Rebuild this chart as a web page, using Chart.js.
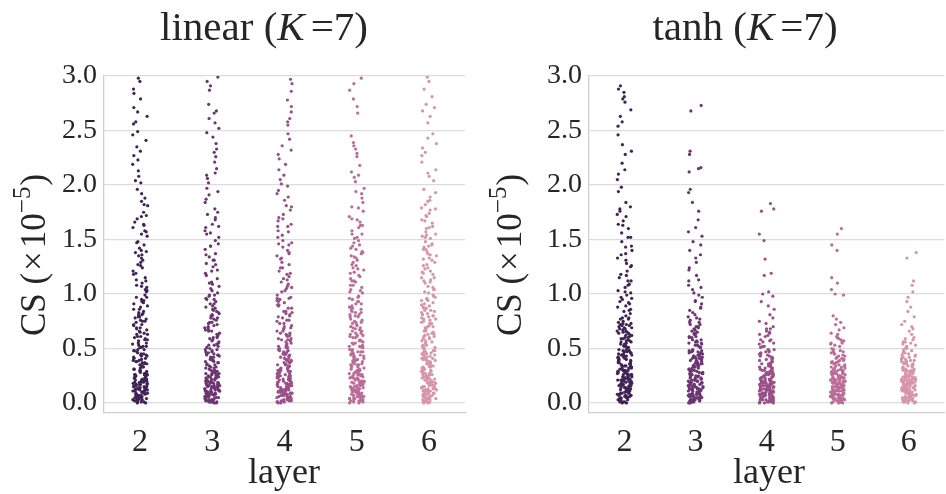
<!DOCTYPE html>
<html>
<head>
<meta charset="utf-8">
<script src="https://cdn.jsdelivr.net/npm/chart.js@4.4.1/dist/chart.umd.min.js"></script>
<style>
  html, body { margin: 0; padding: 0; background: #fff; }
  .wrap { display: flex; width: 946px; height: 494px; }
  .box { width: 473px; height: 494px; }
</style>
</head>
<body>
<div class="wrap">
  <div class="box"><canvas id="linearChart" width="473" height="494"></canvas></div>
  <div class="box"><canvas id="tanhChart" width="473" height="494"></canvas></div>
</div>
<script>
const layers = [2, 3, 4, 5, 6];
const yTicks = [0.0, 0.5, 1.0, 1.5, 2.0, 2.5, 3.0];
const palette = ['#3f2356', '#6b3572', '#9a4f88', '#bb6c97', '#d795a8'];

// CS values (x1e-5), one array per layer
const linear2 = [0.02,0.11,0.05,0.19,0.08,0.23,0.01,0.14,0.07,0.17,0.03,0.21,0.10,0.06,0.24,0.13,0.04,0.16,0.09,0.20,0.00,0.12,0.18,0.03,0.22,0.08,0.15,0.05,0.25,0.11,0.02,0.19,0.07,0.14,0.01,0.23,0.10,0.17,0.06,0.13,
  0.27,0.41,0.33,0.48,0.29,0.37,0.45,0.31,0.39,0.26,0.44,0.35,0.49,0.30,0.42,0.28,0.38,0.46,0.34,0.40,0.32,0.47,0.36,0.43,0.26,
  0.52,0.71,0.63,0.88,0.57,0.95,0.66,0.79,0.54,0.84,0.61,0.74,0.99,0.58,0.69,0.91,0.76,0.55,0.82,0.64,0.93,0.72,0.60,0.86,0.51,0.78,0.68,0.97,0.81,0.75,
  1.04,1.27,1.15,1.42,1.08,1.33,1.21,1.48,1.12,1.38,1.02,1.24,1.45,1.18,1.31,1.06,1.40,1.29,1.10,1.36,
  1.53,1.72,1.61,1.88,1.57,1.96,1.66,1.81,1.55,1.75,1.92,1.63,1.85,1.69,
  2.04,2.27,2.13,2.41,2.08,2.35,2.19,2.46,2.02,2.31,2.23,2.49,
  2.56,2.71,2.63,2.88,2.58,2.79,2.95,2.67,2.84,2.98,
  0.04,0.17,0.09,0.26,0.12,0.01,0.21,0.07,0.15,0.28,0.03,0.19,0.11,0.24,0.06,0.14,0.29,0.02,0.18,0.09,0.23,0.13,0.05,0.27,0.16,0.08,0.20,0.00,0.12,0.25,0.04,0.17,0.10,0.22,0.07,0.14,0.30,0.03,0.19,0.11,0.26,0.06,0.15,0.21,0.09,
  0.33,0.58,0.45,0.81,0.37,0.69,0.52,0.92,0.41,0.63,0.77,0.34,0.55,0.86,0.48,0.72,0.39,0.97,0.61,0.44,0.83,0.53,0.67,0.31,0.75,0.49,0.89,0.36,0.59,0.43,0.79,0.65,0.51,0.94,0.38,
  1.07,1.35,1.19,1.58,1.26,1.82,1.13,1.47,1.71,1.03,1.39,1.64];
const linear3 = [0.03,0.16,0.09,0.22,0.01,0.12,0.19,0.06,0.24,0.14,0.04,0.20,0.08,0.17,0.00,0.11,0.23,0.05,0.15,0.10,0.21,0.02,0.13,0.18,0.07,0.25,0.09,0.16,0.04,0.12,0.20,0.06,0.22,0.01,0.14,0.18,0.08,0.11,0.24,0.03,
  0.28,0.44,0.36,0.31,0.49,0.26,0.40,0.33,0.46,0.38,0.29,0.43,0.35,0.48,0.27,0.41,0.32,0.45,0.37,0.30,0.47,0.34,0.42,0.39,0.26,0.44,
  0.53,0.77,0.64,0.91,0.59,0.83,0.70,0.98,0.56,0.74,0.87,0.62,0.95,0.67,0.80,0.51,0.72,0.89,0.60,0.85,0.66,0.93,0.55,0.78,0.69,0.96,0.58,0.81,0.73,0.99,
  1.03,1.22,1.37,1.11,1.46,1.28,1.07,1.34,1.19,1.49,1.14,1.41,1.25,1.01,1.31,1.17,1.44,1.09,
  1.52,1.78,1.64,1.91,1.58,1.84,1.70,1.97,1.61,1.75,1.87,1.55,1.68,1.94,
  2.06,2.33,2.15,2.44,2.02,2.26,2.38,2.11,2.48,2.21,2.30,2.09,
  2.52,2.68,2.61,2.74,2.57,2.66,2.87,2.91,2.95,2.99,
  0.05,0.18,0.02,0.23,0.11,0.29,0.08,0.15,0.01,0.20,0.13,0.27,0.06,0.16,0.10,0.24,0.03,0.19,0.12,0.28,0.07,0.14,0.22,0.00,0.17,0.09,0.25,0.04,0.13,0.21,0.08,0.30,0.15,0.02,0.19,0.11,0.26,0.06,0.16,0.23,0.10,0.01,0.18,0.12,0.27,
  0.35,0.61,0.47,0.84,0.32,0.71,0.54,0.95,0.42,0.66,0.78,0.37,0.57,0.88,0.49,0.74,0.40,0.99,0.63,0.45,0.82,0.52,0.69,0.33,0.76,0.50,0.91,0.38,0.60,0.44,0.80,0.67,0.53,0.86,0.39,
  1.05,1.31,1.21,1.56,1.27,1.73,1.10,1.44,1.62,1.36];
const linear4 = [0.01,0.13,0.07,0.21,0.04,0.17,0.10,0.24,0.02,0.15,0.08,0.19,0.05,0.22,0.12,0.00,0.16,0.09,0.23,0.03,0.14,0.06,0.20,0.11,0.18,0.02,0.25,0.07,0.13,0.04,0.21,0.10,0.16,0.01,0.19,0.08,0.12,0.24,0.05,0.17,0.09,0.22,
  0.27,0.43,0.34,0.48,0.30,0.39,0.45,0.26,0.36,0.42,0.31,0.47,0.28,0.38,0.44,0.33,0.49,0.29,0.41,0.35,0.46,0.32,0.40,0.27,0.37,0.44,0.30,0.48,
  0.54,0.73,0.62,0.89,0.57,0.81,0.68,0.96,0.52,0.76,0.64,0.92,0.59,0.84,0.71,0.99,0.55,0.79,0.66,0.87,0.61,0.94,0.51,0.75,0.69,0.83,0.58,0.90,0.63,0.97,
  1.05,1.29,1.16,1.43,1.02,1.35,1.21,1.47,1.09,1.32,1.13,1.40,1.24,1.07,1.38,1.19,1.45,1.27,1.11,1.49,
  1.54,1.73,1.62,1.89,1.58,1.95,1.67,1.81,1.52,1.77,1.92,1.64,1.86,1.70,1.99,
  2.05,2.28,2.14,2.42,2.09,2.36,2.19,2.47,2.01,2.32,2.24,
  2.55,2.72,2.61,2.86,2.67,2.93,2.78,2.58,2.97,
  0.03,0.16,0.08,0.25,0.11,0.02,0.20,0.06,0.14,0.29,0.04,0.18,0.10,0.23,0.07,0.13,0.27,0.01,0.17,0.09,0.22,0.12,0.05,0.26,0.15,0.08,0.21,0.00,0.11,0.24,0.03,0.16,0.10,0.28,0.06,0.14,0.19,0.02,0.18,0.12,0.25,0.05,0.15,0.22,0.09,
  0.34,0.59,0.46,0.82,0.38,0.70,0.53,0.93,0.41,0.64,0.78,0.35,0.56,0.87,0.48,0.73,0.39,0.96,0.62,0.45,0.84,0.52,0.68,0.32,0.76,0.50,0.90,0.37,0.58,0.43,0.80,0.66,0.51,0.95,0.31,
  1.06,1.33,1.18,1.57,1.24,1.80,1.14,1.46,1.69,1.03,1.37,1.62];
const linear5 = [0.02,0.14,0.08,0.20,0.05,0.17,0.11,0.23,0.00,0.13,0.06,0.19,0.09,0.22,0.03,0.15,0.10,0.24,0.07,0.18,0.01,0.12,0.21,0.04,0.16,0.25,0.09,0.13,0.06,0.20,0.02,0.11,0.17,0.08,0.23,0.14,
  0.29,0.42,0.35,0.47,0.26,0.38,0.44,0.31,0.49,0.33,0.40,0.27,0.46,0.36,0.30,0.43,0.34,0.48,0.28,0.39,0.45,0.32,0.41,0.37,0.26,0.47,0.35,0.43,
  0.51,0.74,0.63,0.88,0.56,0.81,0.69,0.95,0.53,0.77,0.60,0.91,0.66,0.84,0.58,0.98,0.72,0.55,0.86,0.64,0.79,0.52,0.93,0.70,0.61,0.83,0.57,0.97,0.75,0.67,0.89,0.62,0.80,
  1.03,1.26,1.14,1.41,1.08,1.33,1.19,1.47,1.01,1.22,1.37,1.11,1.44,1.29,1.06,1.35,1.17,1.49,1.24,1.12,1.39,1.04,1.31,
  1.55,1.76,1.63,1.92,1.58,1.84,1.69,1.97,1.52,1.71,1.88,1.61,1.80,1.66,1.94,
  2.03,2.26,2.12,2.39,2.07,2.33,2.18,2.45,2.09,2.29,2.36,
  2.66,2.79,2.87,2.93,2.72,2.98,
  0.04,0.17,0.09,0.26,0.12,0.01,0.21,0.07,0.15,0.28,0.03,0.19,0.11,0.24,0.06,0.14,0.29,0.02,0.18,0.09,0.23,0.13,0.05,0.27,0.16,0.08,0.20,0.00,0.12,0.25,0.04,0.17,0.10,0.22,0.07,0.14,0.30,0.03,0.19,0.11,0.26,0.06,
  0.36,0.60,0.44,0.83,0.33,0.68,0.51,0.91,0.40,0.62,0.76,0.35,0.54,0.87,0.47,0.71,0.38,0.96,0.64,0.42,0.81,0.55,0.69,0.31,0.74,0.49,0.88,0.37,0.57,0.45,0.79,0.66,0.52,0.93,0.39,0.61,0.73,0.85,
  1.08,1.34,1.20,1.55,1.27,1.79,1.12,1.45,1.68,1.02,1.38,1.63,1.16,1.42,1.23,1.51];
const linear6 = [0.03,0.15,0.09,0.21,0.01,0.12,0.18,0.06,0.24,0.11,0.04,0.19,0.08,0.16,0.00,0.13,0.22,0.05,0.17,0.10,0.25,0.02,0.14,0.20,0.07,0.12,0.23,0.04,0.16,0.09,0.19,0.01,0.11,
  0.28,0.41,0.34,0.47,0.26,0.38,0.45,0.31,0.43,0.36,0.49,0.29,0.40,0.33,0.46,0.27,0.39,0.44,0.32,0.48,0.35,0.42,0.30,0.37,0.26,0.45,0.33,0.41,
  0.53,0.76,0.64,0.90,0.57,0.83,0.70,0.97,0.52,0.79,0.61,0.87,0.67,0.94,0.55,0.81,0.73,0.99,0.59,0.85,0.66,0.92,0.51,0.77,0.63,0.88,0.69,0.96,0.56,0.80,0.74,0.60,0.84,
  1.02,1.24,1.13,1.39,1.07,1.31,1.18,1.46,1.04,1.27,1.35,1.10,1.43,1.21,1.48,1.15,1.33,1.06,1.29,1.41,1.12,1.37,1.20,1.45,
  1.53,1.74,1.62,1.89,1.57,1.82,1.68,1.96,1.51,1.71,1.86,1.60,1.79,1.65,1.93,1.55,1.77,
  2.04,2.27,2.14,2.38,2.08,2.34,2.21,2.43,2.11,2.30,2.47,
  2.57,2.68,2.74,2.81,2.63,2.88,2.71,2.95,2.99,
  0.05,0.18,0.02,0.23,0.11,0.29,0.08,0.15,0.01,0.20,0.13,0.27,0.06,0.16,0.10,0.24,0.03,0.19,0.12,0.28,0.07,0.14,0.22,0.00,0.17,0.09,0.25,0.04,0.13,0.21,0.08,0.30,0.15,0.02,0.19,0.11,0.26,0.06,0.16,0.23,
  0.34,0.62,0.46,0.85,0.32,0.70,0.53,0.94,0.41,0.65,0.78,0.36,0.57,0.89,0.48,0.73,0.40,0.98,0.63,0.44,0.82,0.51,0.68,0.33,0.77,0.50,0.91,0.38,0.59,0.43,0.80,0.66,0.54,0.87,0.39,0.61,0.71,0.95,0.47,0.75,
  1.04,1.32,1.19,1.54,1.26,1.78,1.11,1.44,1.67,1.01,1.36,1.61,1.15,1.41,1.23,1.52,1.85,1.72];

// CS values (x1e-5)
const tanh2 = [0.02,0.13,0.07,0.20,0.04,0.16,0.10,0.23,0.01,0.14,0.08,0.19,0.05,0.22,0.11,0.00,0.17,0.09,0.24,0.03,0.15,0.06,0.21,0.12,0.18,0.02,0.25,0.08,0.13,0.04,0.20,0.10,0.16,0.01,0.23,0.07,0.12,0.19,0.05,0.14,0.09,0.22,
  0.27,0.42,0.34,0.48,0.30,0.38,0.45,0.26,0.36,0.43,0.31,0.47,0.28,0.39,0.44,0.33,0.49,0.29,0.41,0.35,0.46,0.32,0.40,0.27,0.37,0.44,0.30,0.48,0.34,0.42,
  0.52,0.66,0.58,0.71,0.54,0.63,0.69,0.56,0.74,0.60,0.67,0.51,0.64,0.72,0.57,0.70,0.53,0.62,0.68,0.59,0.73,0.55,0.65,0.61,
  0.78,0.91,0.84,0.97,0.80,0.88,0.95,0.82,0.93,0.86,0.99,0.77,
  1.03,1.21,1.12,1.37,1.06,1.28,1.17,1.44,1.01,1.33,1.09,1.25,1.48,1.15,1.40,1.31,
  1.52,1.71,1.60,1.84,1.56,1.76,1.94,1.63,1.80,1.67,1.98,1.73,
  2.05,2.28,2.14,2.37,2.20,2.46,2.10,2.31,
  2.54,2.63,2.76,2.81,2.58,2.88,2.79,2.69,2.85,2.91,
  0.03,0.18,0.09,0.31,0.14,0.42,0.06,0.24,0.37,0.11,0.01,0.28,0.46,0.16,0.08,0.33,0.21,0.49,0.04,0.26,0.13,0.39,0.19,0.07,0.44,0.29,0.12,0.35,0.02,0.23,0.47,0.17,0.32,0.10,0.40,0.05,0.27,0.15,0.43,0.20,0.36,0.09,0.25,0.48,0.14,0.30,0.00,0.22,0.38,0.11,0.45,0.18,0.34,0.06,0.26,0.41,0.16,0.03,0.29,0.21,
  0.53,0.68,0.59,0.75,0.56,0.64,0.71,0.51,0.62,0.78,0.57,0.66,0.73,0.54,0.69,0.60,0.77,0.52,0.65,0.72,
  0.85,1.02,0.92,1.18,1.36,0.89,1.26,1.52,1.08,1.64,0.96,1.43,1.78,1.12];
const tanh3 = [0.01,0.14,0.08,0.21,0.04,0.17,0.11,0.24,0.02,0.15,0.07,0.19,0.05,0.22,0.12,0.00,0.16,0.09,0.23,0.03,0.13,0.06,0.20,0.10,0.18,0.02,0.25,0.08,0.14,0.04,0.21,0.11,0.17,0.01,0.23,0.06,0.12,0.19,0.05,0.15,0.09,0.22,0.03,0.13,0.07,
  0.28,0.43,0.35,0.47,0.31,0.39,0.45,0.26,0.37,0.42,0.30,0.48,0.27,0.40,0.44,0.33,0.49,0.29,0.41,0.36,0.46,0.32,0.38,0.27,0.43,0.34,0.48,0.30,0.41,0.36,
  0.53,0.69,0.58,0.76,0.55,0.64,0.72,0.51,0.61,0.78,0.57,0.67,0.74,0.54,0.63,0.79,0.60,0.70,0.56,0.66,
  0.83,0.94,0.87,0.99,0.81,0.91,0.85,0.97,
  1.04,1.22,1.13,1.36,1.08,1.29,1.45,1.17,1.40,1.01,1.33,
  1.53,1.68,1.61,1.84,1.57,1.93,1.76,1.96,
  2.12,2.16,2.28,2.31,2.15,2.73,2.68,
  0.02,0.17,0.08,0.30,0.13,0.41,0.05,0.23,0.36,0.10,0.00,0.27,0.45,0.15,0.07,0.32,0.20,0.48,0.03,0.25,0.12,0.38,0.18,0.06,0.43,0.28,0.11,0.34,0.01,0.22,0.46,0.16,0.31,0.09,0.39,0.04,0.26,0.14,0.42,0.19,0.35,0.08,0.24,0.47,0.13,0.29,0.02,0.21,0.37,0.10,0.44,0.17,0.33,0.05,0.25,0.40,0.15,0.03,0.28,0.20,
  0.52,0.67,0.58,0.74,0.55,0.63,0.70,0.51,0.61,0.77,0.56,0.65,0.72,0.53,0.68,0.60,
  0.88,1.06,0.93,1.24,1.12,1.48];
const tanh4 = [0.01,0.12,0.06,0.19,0.03,0.15,0.09,0.22,0.00,0.13,0.07,0.17,0.04,0.21,0.10,0.24,0.02,0.14,0.08,0.18,0.05,0.20,0.11,0.23,0.01,0.16,0.06,0.12,0.25,0.03,0.19,0.09,0.15,0.00,0.22,0.07,0.13,0.17,0.04,0.10,0.24,0.02,0.14,0.20,0.08,0.11,0.18,0.05,0.23,0.01,0.16,0.09,0.21,0.03,0.12,
  0.27,0.41,0.33,0.46,0.29,0.37,0.44,0.26,0.35,0.49,0.31,0.40,0.28,0.43,0.36,0.47,0.30,0.38,0.45,0.32,0.42,0.27,0.39,0.34,0.48,
  0.52,0.66,0.58,0.73,0.55,0.63,0.70,0.51,0.61,0.68,0.57,0.75,0.64,0.54,
  0.78,0.86,0.81,0.93,0.89,0.98,
  1.02,1.17,1.19,1.32,1.49,1.55,1.76,1.78,1.83,1.00,
  0.02,0.14,0.07,0.21,0.10,0.27,0.04,0.17,0.24,0.09,0.00,0.19,0.29,0.12,0.06,0.22,0.15,0.26,0.03,0.18,0.11,0.25,0.13,0.05,0.28,0.20,0.08,0.23,0.01,0.16,0.30,0.12,0.21,0.07,0.26,0.04,0.18,0.10,0.24,0.14,0.02,0.19,0.09,0.27,0.06,0.16,0.11,0.22,0.03,0.13,
  0.32,0.47,0.38,0.56,0.34,0.43,0.62,0.31,0.41,0.52,0.36,0.45,0.68,0.33,0.49,0.40,0.58,0.35,0.44,0.65];
const tanh5 = [0.02,0.13,0.07,0.20,0.04,0.16,0.10,0.23,0.01,0.14,0.08,0.18,0.05,0.21,0.11,0.00,0.15,0.09,0.24,0.03,0.12,0.06,0.19,0.10,0.17,0.02,0.25,0.07,0.13,0.04,0.22,0.11,0.16,0.01,0.20,0.08,0.14,0.18,0.05,0.12,0.09,0.23,0.03,0.15,0.06,0.19,0.00,0.21,0.10,0.13,0.17,0.04,0.24,0.08,0.11,
  0.27,0.38,0.32,0.43,0.29,0.35,0.41,0.26,0.34,0.44,0.30,0.37,0.28,0.40,0.33,0.45,0.31,0.39,0.27,0.36,0.42,0.30,
  0.47,0.58,0.52,0.63,0.49,0.55,0.61,0.46,0.54,0.59,0.50,0.64,0.56,0.48,
  0.67,0.72,0.74,0.80,0.69,0.77,
  1.60,1.55,1.45,1.40,1.15,1.10,1.04,1.00,0.99,
  0.03,0.15,0.08,0.22,0.11,0.28,0.05,0.18,0.25,0.10,0.01,0.20,0.29,0.13,0.07,0.23,0.16,0.27,0.04,0.19,0.12,0.26,0.14,0.06,0.29,0.21,0.09,0.24,0.02,0.17,0.30,0.13,0.22,0.08,0.27,0.05,0.19,0.11,0.25,0.15,0.03,0.20,0.10,0.28,0.07,0.17,0.12,0.23,0.00,0.14,
  0.32,0.45,0.37,0.53,0.34,0.41,0.57,0.31,0.39,0.49,0.35,0.43,0.60,0.33,0.47,0.38,0.55,0.36];
const tanh6 = [0.03,0.14,0.08,0.21,0.01,0.17,0.11,0.24,0.05,0.13,0.07,0.19,0.02,0.22,0.10,0.16,0.00,0.12,0.20,0.06,0.15,0.09,0.23,0.04,0.18,0.11,0.25,0.02,0.14,0.07,0.20,0.12,0.17,0.03,0.22,0.09,0.13,0.19,0.05,0.16,0.01,0.21,0.10,0.15,0.06,0.24,0.08,0.18,0.04,0.12,0.20,0.02,0.14,0.09,0.17,
  0.28,0.39,0.33,0.44,0.30,0.36,0.42,0.26,0.35,0.41,0.29,0.38,0.27,0.43,0.32,0.45,0.31,0.37,0.40,0.34,0.27,0.42,0.30,0.36,
  0.47,0.55,0.51,0.58,0.49,0.53,0.60,0.46,0.56,0.50,
  0.63,0.68,0.72,0.66,0.79,0.75,0.84,0.88,0.93,0.97,0.70,
  1.02,1.08,1.12,1.33,1.38,
  0.02,0.16,0.09,0.23,0.12,0.29,0.04,0.19,0.26,0.11,0.00,0.21,0.28,0.14,0.06,0.24,0.17,0.27,0.03,0.20,0.13,0.25,0.15,0.07,0.30,0.22,0.10,0.23,0.01,0.18,0.29,0.14,0.21,0.08,0.26,0.05,0.20,0.12,0.24,0.16,0.02,0.19,0.11,0.27,0.08,0.15,0.13,0.22,0.04,0.17,
  0.31,0.44,0.36,0.52,0.33,0.40,0.56,0.32,0.38,0.48,0.35,0.42,0.59,0.34,0.46,0.37,0.54,0.39];

const SERIF = '"Liberation Serif", "Times New Roman", serif';
const INK = '#262626';

// strip-plot jitter: deterministic hash of the point index, only moves points sideways
const jit = i => {
  const s = Math.sin(i * 12.9898 + 78.233) * 43758.5453;
  return (s - Math.floor(s) - 0.5) * 0.21;
};

function buildSets(strips) {
  return strips.map((vals, k) => ({
    data: vals.map((v, i) => ({ x: k + jit(i + k * 1000), y: v })),
    backgroundColor: palette[k],
    borderWidth: 0,
    pointRadius: 1.6,
    pointHoverRadius: 0
  }));
}

function drawPieces(ctx, pieces, startX, baseY) {
  let x = startX;
  pieces.forEach(p => {
    ctx.font = p.font;
    x += p.padL || 0;
    ctx.fillText(p.t, x, baseY - (p.rise || 0));
    x += ctx.measureText(p.t).width + (p.padR || 0);
  });
}
function piecesWidth(ctx, pieces) {
  let w = 0;
  pieces.forEach(p => {
    ctx.font = p.font;
    w += ctx.measureText(p.t).width + (p.padL || 0) + (p.padR || 0);
  });
  return w;
}

const panelText = {
  id: 'panelText',
  afterDraw(chart, args, o) {
    const ctx = chart.ctx;
    ctx.save();
    ctx.fillStyle = INK;
    ctx.textBaseline = 'alphabetic';
    ctx.textAlign = 'left';

    // title
    const tp = [
      { t: o.name + ' (', font: '41px ' + SERIF },
      { t: 'K', font: 'italic 41px ' + SERIF },
      { t: '=7)', font: '41px ' + SERIF, padL: 6 }
    ];
    drawPieces(ctx, tp, o.titleX - piecesWidth(ctx, tp) / 2, 40);

    // x label
    ctx.font = '36px ' + SERIF;
    ctx.textAlign = 'center';
    ctx.fillText('layer', o.xlabelX, 483);
    ctx.textAlign = 'left';

    // y label, rotated
    const yp = [
      { t: 'CS (', font: '35px ' + SERIF },
      { t: '\u00d7', font: '35px ' + SERIF, padL: 2, padR: 3 },
      { t: '10', font: '35px ' + SERIF },
      { t: '\u22125', font: '25px ' + SERIF, rise: 15 },
      { t: ')', font: '35px ' + SERIF, padL: 1 }
    ];
    ctx.translate(o.ylabelX, 255);
    ctx.rotate(-Math.PI / 2);
    drawPieces(ctx, yp, -piecesWidth(ctx, yp) / 2, 0);
    ctx.restore();
  }
};

function makeChart(id, strips, name, t) {
  return new Chart(document.getElementById(id), {
    type: 'scatter',
    data: { datasets: buildSets(strips) },
    plugins: [panelText],
    options: {
      responsive: false,
      animation: false,
      events: [],
      layout: { padding: { top: 76, right: t.padRight, left: 0, bottom: 0 } },
      plugins: {
        legend: { display: false },
        tooltip: { enabled: false },
        panelText: { name: name, titleX: t.titleX, xlabelX: t.xlabelX, ylabelX: t.ylabelX }
      },
      scales: {
        x: {
          type: 'linear',
          min: -0.5,
          max: 4.5,
          afterBuildTicks: a => { a.ticks = layers.map((l, i) => ({ value: i })); },
          afterFit: s => { s.height = 81; },
          ticks: {
            callback: v => layers[v],
            font: { family: SERIF, size: 32 },
            color: INK,
            padding: 10,
            maxRotation: 0
          },
          grid: { display: false, drawTicks: false },
          border: { display: true, color: '#cfcfcf', width: 1.3 }
        },
        y: {
          min: -0.092,
          max: 3.0,
          afterBuildTicks: a => { a.ticks = yTicks.map(v => ({ value: v })); },
          afterFit: s => { s.width = t.axisWidth; },
          ticks: {
            callback: v => v.toFixed(1),
            font: { family: SERIF, size: 28 },
            color: INK,
            padding: 7
          },
          grid: { color: '#dcdcdc', lineWidth: 1.3, drawTicks: false },
          border: { display: true, color: '#cfcfcf', width: 1.3 }
        }
      }
    }
  });
}

makeChart('linearChart', [linear2, linear3, linear4, linear5, linear6], 'linear',
  { axisWidth: 104, padRight: 8, titleX: 264, xlabelX: 284, ylabelX: 45 });
makeChart('tanhChart', [tanh2, tanh3, tanh4, tanh5, tanh6], 'tanh',
  { axisWidth: 116, padRight: 0, titleX: 272, xlabelX: 296, ylabelX: 48 });
</script>
</body>
</html>
